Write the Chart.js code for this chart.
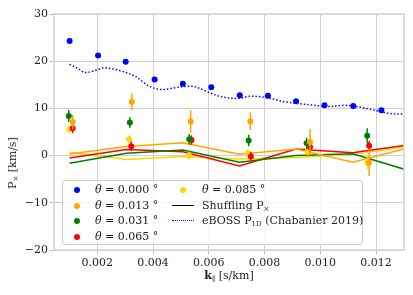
<!DOCTYPE html>
<html>
<head>
<meta charset="utf-8">
<script src="https://cdn.jsdelivr.net/npm/chart.js@4.4.0/dist/chart.umd.min.js"></script>
<style>
    body { margin: 0; background: #fff; }
    #wrap { position: relative; width: 413px; height: 295px; font-family: "DejaVu Serif", serif; color: #222; }
    #chart { position: absolute; left: 0; top: 0; }
    .ytitle { position: absolute; left: 13px; top: 163px; transform: translate(-50%, -50%) rotate(-90deg); font-size: 11px; white-space: nowrap; }
    .xtitle { position: absolute; left: 229px; top: 276px; transform: translate(-50%, -50%); font-size: 11px; white-space: nowrap; }
    sub { font-size: 7px; vertical-align: -2px; }
    #legend { position: absolute; left: 62px; top: 180px; width: 299px; height: 63px; background: rgba(255,255,255,0.8);
              border: 1px solid #cccccc; border-radius: 3px; font-size: 11px; }
    .item { position: absolute; height: 14px; line-height: 14px; white-space: nowrap; }
    .dot { position: absolute; width: 6px; height: 6px; border-radius: 50%; }
    .seg { position: absolute; width: 22px; height: 0; }
</style>
</head>
<body>
<div id="wrap">
    <canvas id="chart" width="413" height="295"></canvas>
    <div class="ytitle">P<sub>×</sub> [km/s]</div>
    <div class="xtitle"><b>k</b><sub>∥</sub> [s/km]</div>
    <div id="legend"></div>
</div>
<script>
// angoli theta e colori
const thetaLabels = ["0.000", "0.013", "0.031", "0.065", "0.085"];
const thetaColors = ["#0000ff", "#ffa500", "#008000", "#ff0000", "#ffd700"];

// theta = 0.000
const k000 = [0.00101, 0.00203, 0.00302, 0.00406, 0.00507, 0.00609, 0.00711, 0.00812, 0.00913, 0.01015, 0.01118, 0.01219];
const p000 = [24.3, 21.2, 19.9, 16.1, 15.2, 14.5, 12.8, 12.7, 11.5, 10.65, 10.5, 9.6];
const e000 = [0.2, 0.2, 0.2, 0.2, 0.2, 0.2, 0.2, 0.2, 0.2, 0.2, 0.2, 0.2];

// theta = 0.013
const k013 = [0.00112, 0.00324, 0.00535, 0.00749, 0.00963, 0.01175];
const p013 = [7.1, 11.4, 7.2, 7.3, 2.9, -1.5];
const e013 = [1.5, 1.8, 2.4, 1.9, 2.8, 2.8];

// theta = 0.031
const k031 = [0.00098, 0.00317, 0.0053, 0.00743, 0.00951, 0.01168];
const p031 = [8.4, 7.0, 3.45, 3.2, 2.6, 4.2];
const e031 = [1.3, 1.1, 1.1, 1.2, 1.2, 1.6];

// theta = 0.065
const k065 = [0.00112, 0.00322, 0.00538, 0.00751, 0.00963, 0.01175];
const p065 = [5.8, 2.0, 3.3, -0.2, 1.8, 2.1];
const e065 = [1.0, 1.0, 1.0, 1.0, 1.0, 1.0];

// theta = 0.085
const k085 = [0.001, 0.00314, 0.00529, 0.0074, 0.00954, 0.01169];
const p085 = [5.6, 3.45, 0.0, 0.5, 0.8, -1.4];
const e085 = [0.8, 0.8, 0.8, 0.8, 0.8, 1.5];

// shuffling P_x
const kShuffle = [0.00101, 0.00304, 0.00507, 0.0071, 0.00913, 0.01116, 0.01319];
const shuffle013 = [0.35, 1.95, 2.7, 0.3, 1.4, -1.4, 1.7];
const shuffle031 = [-1.6, 0.5, 1.2, -1.4, 0.0, 0.4, -3.2];
const shuffle065 = [-0.5, 1.3, 0.8, -2.2, 1.4, 0.6, 2.3];
const shuffle085 = [0.7, -0.85, -0.2, -0.7, -0.4, 0.3, 2.0];

// eBOSS P1D (Chabanier 2019)
const kEboss = [0.00101, 0.0013, 0.00158, 0.0019, 0.00225, 0.0028, 0.00339, 0.00386, 0.00434, 0.00493, 0.0054, 0.00564,
    0.00636, 0.00707, 0.00749, 0.00802, 0.00873, 0.00957, 0.01029, 0.01088, 0.01148, 0.01207, 0.01243, 0.0129, 0.0131];
const pEboss = [19.35, 18.5, 17.6, 18.0, 18.6, 18.0, 16.7, 14.7, 14.0, 14.5, 14.7, 14.3,
    12.6, 12.1, 12.6, 12.35, 11.4, 10.8, 10.4, 10.65, 10.2, 9.45, 8.96, 8.8, 8.8];

// tick
const xTicks = [0.002, 0.004, 0.006, 0.008, 0.010, 0.012];
const yTicks = [-20, -10, 0, 10, 20, 30];

function punti(k, p) {
    return k.map((x, i) => ({ x: x, y: p[i] }));
}

// dataset punti con barre d'errore
function datasetPunti(label, color, k, p, e) {
    return {
        label: label,
        data: punti(k, p),
        errors: e,
        showLine: false,
        pointRadius: 3,
        pointBackgroundColor: color,
        pointBorderColor: color,
        pointBorderWidth: 0,
        borderColor: color,
        backgroundColor: color,
    };
}

function datasetShuffle(color, k, p) {
    return {
        label: "shuffle",
        data: punti(k, p),
        showLine: true,
        pointRadius: 0,
        borderColor: color,
        borderWidth: 1.5,
        tension: 0,
        fill: false,
    };
}

// plugin barre d'errore: disegnate prima di ogni dataset
const errorBars = {
    id: "errorBars",
    beforeDatasetDraw(chart, args) {
        const ds = chart.data.datasets[args.index];
        if (!ds.errors) return;
        const { ctx, scales } = chart;
        ctx.save();
        ctx.beginPath();
        chart.getDatasetMeta(args.index).data.forEach((pt, i) => {
            const d = ds.data[i];
            const y1 = scales.y.getPixelForValue(d.y - ds.errors[i]);
            const y2 = scales.y.getPixelForValue(d.y + ds.errors[i]);
            ctx.moveTo(pt.x, y1);
            ctx.lineTo(pt.x, y2);
        });
        ctx.strokeStyle = ds.borderColor;
        ctx.lineWidth = 1.5;
        ctx.stroke();
        ctx.restore();
    },
};

// cornice completa attorno all'area del grafico
const frame = {
    id: "frame",
    afterDraw(chart) {
        const { ctx, chartArea: a } = chart;
        ctx.save();
        ctx.strokeStyle = "#d6d6d6";
        ctx.lineWidth = 1.6;
        ctx.strokeRect(a.left, a.top, a.right - a.left, a.bottom - a.top);
        ctx.restore();
    },
};

const chart = new Chart(document.getElementById("chart").getContext("2d"), {
    type: "scatter",
    data: {
        datasets: [
            datasetPunti(thetaLabels[0], thetaColors[0], k000, p000, e000),
            datasetPunti(thetaLabels[1], thetaColors[1], k013, p013, e013),
            datasetPunti(thetaLabels[2], thetaColors[2], k031, p031, e031),
            datasetPunti(thetaLabels[3], thetaColors[3], k065, p065, e065),
            datasetPunti(thetaLabels[4], thetaColors[4], k085, p085, e085),
            {
                label: "eBOSS",
                data: punti(kEboss, pEboss),
                showLine: true,
                pointRadius: 0,
                borderColor: "#0000ff",
                borderWidth: 1.5,
                borderDash: [1.5, 2],
                cubicInterpolationMode: "monotone",
                fill: false,
            },
            datasetShuffle(thetaColors[1], kShuffle, shuffle013),
            datasetShuffle(thetaColors[2], kShuffle, shuffle031),
            datasetShuffle(thetaColors[3], kShuffle, shuffle065),
            datasetShuffle(thetaColors[4], kShuffle, shuffle085),
        ],
    },
    options: {
        responsive: false,
        animation: false,
        events: [],
        layout: { padding: { top: 14, right: 9, left: 0, bottom: 0 } },
        plugins: { legend: { display: false }, tooltip: { enabled: false } },
        scales: {
            x: {
                type: "linear",
                min: 0.00045,
                max: 0.013,
                afterBuildTicks: (s) => { s.ticks = xTicks.map((v) => ({ value: v })); },
                afterFit: (s) => { s.height = 45; },
                ticks: {
                    color: "#222",
                    padding: 3,
                    font: { family: "DejaVu Serif", size: 11 },
                    callback: (v) => v.toFixed(3),
                },
                grid: { color: "#d0d0d0", borderDash: [2, 1.5], tickLength: 4, tickColor: "#bbbbbb", tickBorderDash: [] },
                border: { display: false },
            },
            y: {
                min: -20,
                max: 30,
                afterBuildTicks: (s) => { s.ticks = yTicks.map((v) => ({ value: v })); },
                afterFit: (s) => { s.width = 54; },
                ticks: {
                    color: "#222",
                    padding: 2,
                    font: { family: "DejaVu Serif", size: 11 },
                    callback: (v) => (v < 0 ? "\u2212" + Math.abs(v) : String(v)),
                },
                grid: { color: "#d0d0d0", borderDash: [2, 1.5], tickLength: 4, tickColor: "#bbbbbb", tickBorderDash: [] },
                border: { display: false },
            },
        },
    },
    plugins: [errorBars, frame],
});

// legenda html a due colonne
const legend = document.getElementById("legend");
const righe = [15.5, 15.5, 15.5, 15.5];
function aggiungi(x, rowIdx, html, marker) {
    const y = 2 + rowIdx * 15.5;
    const item = document.createElement("div");
    item.className = "item";
    item.style.left = x + "px";
    item.style.top = y + "px";
    item.innerHTML = html;
    legend.appendChild(item);
    marker.style.top = (y + 7) + "px";
    legend.appendChild(marker);
}
const posizioni = [[0, 0], [0, 1], [0, 2], [0, 3], [1, 0]];
thetaLabels.forEach((t, i) => {
    const col = posizioni[i][0];
    const row = posizioni[i][1];
    const dot = document.createElement("span");
    dot.className = "dot";
    dot.style.background = thetaColors[i];
    dot.style.left = (col ? 116.7 : 11) + "px";
    dot.style.marginTop = "-3px";
    aggiungi(col ? 139 : 32, row, "<i>θ</i> = " + t + " °", dot);
});
const nero = document.createElement("span");
nero.className = "seg";
nero.style.left = "109px";
nero.style.borderTop = "1.5px solid #000";
nero.style.marginTop = "-1px";
aggiungi(139, 1, "Shuffling P<sub>×</sub>", nero);
const blu = document.createElement("span");
blu.className = "seg";
blu.style.left = "109px";
blu.style.borderTop = "1.5px dotted #0000ff";
blu.style.marginTop = "-1px";
aggiungi(139, 2, "eBOSS P<sub>1D</sub> (Chabanier 2019)", blu);
</script>
</body>
</html>
